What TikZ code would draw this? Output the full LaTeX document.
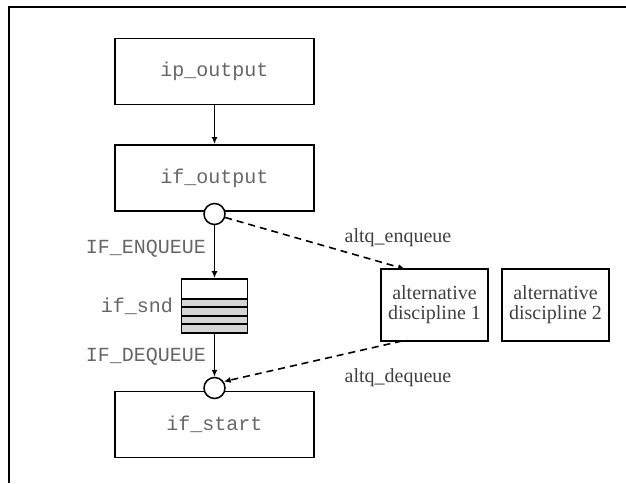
\documentclass[tikz,border=0pt]{standalone}
\usepackage{fontspec}
\setmainfont{Liberation Serif}
\newfontfamily\monofont{Liberation Mono}
\usetikzlibrary{arrows.meta,calc}

\tikzset{
  every picture/.style={x=1pt,y=-1pt},
  codetext/.style={font=\monofont\fontsize{20}{22}\selectfont, text=black!60},
  prosetext/.style={font=\fontsize{20}{21}\selectfont, text=black!75},
  funcbox/.style={draw, line width=1.8pt, minimum width=199pt, minimum height=66pt,
    inner sep=0pt, codetext},
  discbox/.style={draw, line width=1.8pt, minimum width=107pt, minimum height=72pt,
    inner sep=0pt, align=center, prosetext},
  hook/.style={circle, draw, fill=white, line width=1.5pt, minimum size=21pt, inner sep=0pt},
  queuebox/.style={draw, line width=1.8pt, minimum width=66pt, minimum height=54pt,
    inner sep=0pt, path picture={
      \fill[black!17] (path picture bounding box.south west)
        rectangle ([yshift=34pt]path picture bounding box.south east);
      \foreach \h in {9,17,26,34}
        \draw[line width=1.6pt] ([yshift=\h pt]path picture bounding box.south west)
          -- ([yshift=\h pt]path picture bounding box.south east);
    }},
  lbl/.style={inner sep=0pt},
  flow/.style={-{Latex[length=7pt,width=6pt]}, line width=1.6pt},
  altflow/.style={flow, dash pattern=on 7pt off 5pt},
}

\begin{document}
\begin{tikzpicture}
  \useasboundingbox (0,0) rectangle (626,483);
  % page frame (top and left edges)
  \draw[line width=2.2pt] (626,7) -- (9,7) -- (9,483);

  % processing stages
  \node[funcbox] (ipout) at (214.5,71.5) {ip\_output};
  \node[funcbox] (ifout) at (214.5,178) {if\_output};
  \node[funcbox] (ifstart) at (214.5,424.5) {if\_start};

  % interface send queue
  \node[queuebox] (ifsnd) at (214.5,306) {};
  \node[lbl, codetext, anchor=east] (sndlbl) at (173,306) {if\_snd};

  % hook points
  \node[hook] (hookenq) at (214.5,214) {};
  \node[hook] (hookdeq) at (214.5,388) {};

  % queueing disciplines
  \node[discbox] (disc1) at (434.5,305) {alternative\\[-1pt]discipline 1};
  \node[discbox] (disc2) at (555.5,305) {alternative\\[-1pt]discipline 2};

  % default path
  \draw[flow] (ipout) -- (ifout);
  \draw[flow] (hookenq) -- (ifsnd);
  \draw[flow] (ifsnd) -- (hookdeq);

  \node[lbl, codetext, anchor=east] (enqlbl) at (206,249) {IF\_ENQUEUE};
  \node[lbl, codetext, anchor=east] (deqlbl) at (206,357) {IF\_DEQUEUE};

  % alternate queueing path
  \coordinate (disc1in) at (405,269);
  \coordinate (disc1out) at (402,341);
  \draw[altflow] (hookenq.-18) -- (disc1in);
  \draw[altflow] (disc1out) -- (hookdeq.35);

  \node[lbl, prosetext] (altenq) at (398,238) {altq\_enqueue};
  \node[lbl, prosetext] (altdeq) at (398,378) {altq\_dequeue};
\end{tikzpicture}
\end{document}
